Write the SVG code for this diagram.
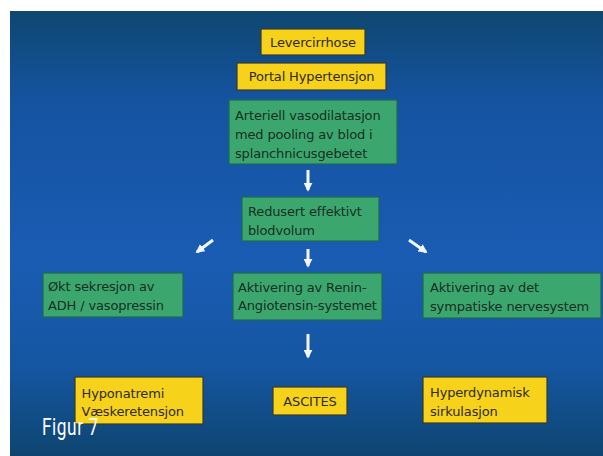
<svg xmlns="http://www.w3.org/2000/svg" width="603" height="456" viewBox="0 0 603 456">
<defs>
<linearGradient id="bg" x1="0" y1="0" x2="0" y2="1">
<stop offset="0" stop-color="#0e4770"/>
<stop offset="0.2" stop-color="#1553a0"/>
<stop offset="0.55" stop-color="#1a5cb3"/>
<stop offset="0.8" stop-color="#1556a2"/>
<stop offset="1" stop-color="#0d4570"/>
</linearGradient>
<marker id="ah" viewBox="0 0 10 10" refX="8" refY="5" markerWidth="3" markerHeight="3" orient="auto" markerUnits="strokeWidth">
<path d="M0,0 L10,5 L0,10 z" fill="#f2f6fb"/>
</marker>
<style>
.g{fill:#3ba76f;stroke:#1e6a52;stroke-width:1.2}
.y{fill:#f6d31a;stroke:#3a3a2a;stroke-width:1.2}
.t{font-family:"DejaVu Sans",Verdana,sans-serif;font-size:13px;fill:#182e22;letter-spacing:-0.15px}
.ty{font-family:"DejaVu Sans",Verdana,sans-serif;font-size:13px;fill:#2f2a1a;letter-spacing:-0.15px}
.a{stroke:#f2f6fb;stroke-width:3;fill:none;marker-end:url(#ah)}
</style>
</defs>
<rect width="603" height="456" fill="#ffffff"/>
<rect x="10" y="11" width="593" height="445" fill="url(#bg)"/>

<g id="connectors">
<line class="a" x1="308" y1="170" x2="308" y2="190"/>
<line class="a" x1="308" y1="249" x2="308" y2="266"/>
<line class="a" x1="213" y1="240" x2="197" y2="252"/>
<line class="a" x1="409" y1="240" x2="426" y2="252"/>
<line class="a" x1="308" y1="334" x2="308" y2="357"/>
</g>

<g id="n-levercirrhose">
<rect class="y" x="261" y="29" width="104" height="26"/>
<text class="ty" x="313" y="46.5" text-anchor="middle">Levercirrhose</text>
</g>
<g id="n-portal">
<rect class="y" x="237" y="63" width="149" height="27"/>
<text class="ty" x="311.5" y="81" text-anchor="middle">Portal Hypertensjon</text>
</g>
<g id="n-arteriell">
<rect class="g" x="229" y="100" width="168" height="64"/>
<text class="t" x="235" y="120">Arteriell vasodilatasjon</text>
<text class="t" x="235" y="139">med pooling av blod i</text>
<text class="t" x="235" y="158">splanchnicusgebetet</text>
</g>
<g id="n-redusert">
<rect class="g" x="242" y="197" width="137" height="44"/>
<text class="t" x="248" y="216">Redusert effektivt</text>
<text class="t" x="248" y="234.5">blodvolum</text>
</g>
<g id="n-adh">
<rect class="g" x="43" y="273" width="140" height="44"/>
<text class="t" x="48" y="291">Økt sekresjon av</text>
<text class="t" x="48" y="309.5">ADH / vasopressin</text>
</g>
<g id="n-renin">
<rect class="g" x="233" y="273" width="149" height="47"/>
<text class="t" x="238" y="292">Aktivering av Renin-</text>
<text class="t" x="238" y="310">Angiotensin-systemet</text>
</g>
<g id="n-sympatiske">
<rect class="g" x="423" y="273" width="178" height="45"/>
<text class="t" x="430" y="292">Aktivering av det</text>
<text class="t" x="430" y="310.5">sympatiske nervesystem</text>
</g>
<g id="n-hyponatremi">
<rect class="y" x="75" y="377" width="128" height="47"/>
<text class="ty" x="81.5" y="397.5">Hyponatremi</text>
<text class="ty" x="81.5" y="416">Væskeretensjon</text>
</g>
<g id="n-ascites">
<rect class="y" x="273" y="387" width="74" height="28"/>
<text class="ty" x="310" y="405.5" text-anchor="middle">ASCITES</text>
</g>
<g id="n-hyperdynamisk">
<rect class="y" x="423" y="377" width="124" height="46"/>
<text class="ty" x="430" y="397">Hyperdynamisk</text>
<text class="ty" x="430" y="416">sirkulasjon</text>
</g>

<text x="42" y="435" font-family="Roboto,'Liberation Sans',sans-serif" font-size="24" fill="#ffffff" transform="translate(42 0) scale(0.72 1) translate(-42 0)" textLength="78">Figur 7</text>
</svg>
